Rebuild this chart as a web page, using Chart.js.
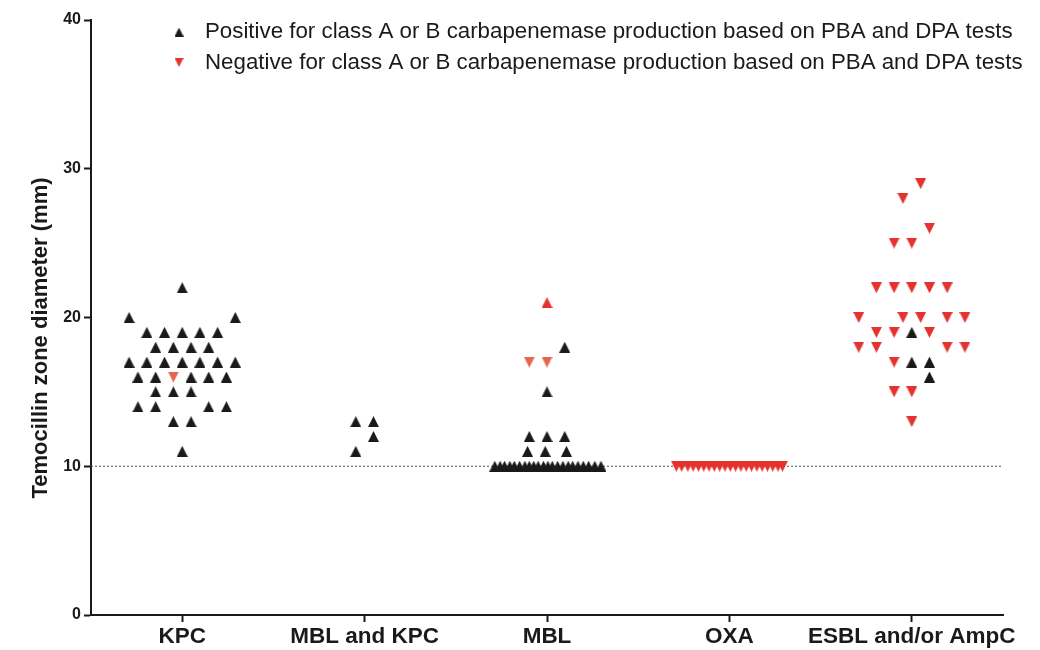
<!DOCTYPE html>
<html><head><meta charset="utf-8">
<script src="https://cdn.jsdelivr.net/npm/chart.js@4.4.1/dist/chart.umd.min.js"></script>
<style>html,body{margin:0;padding:0;background:#fff}#wrap{width:1040px;height:650px;position:relative}</style>
</head><body><div id="wrap"><canvas id="c" width="1040" height="650"></canvas></div>
<script>
// ---------- data ----------
const categories = ['KPC', 'MBL and KPC', 'MBL', 'OXA', 'ESBL and/or AmpC'];
const yTicks = [0, 10, 20, 30, 40];
const yTitle = 'Temocillin zone diameter (mm)';
const cutoffMm = 10;
const positiveLabel = 'Positive for class A or B carbapenemase production based on PBA and DPA tests';
const negativeLabel = 'Negative for class A or B carbapenemase production based on PBA and DPA tests';

// each point: [zone diameter (mm), column slot within the category]
const kpcPositive = [
  [22,0],[20,-3],[20,3],[19,-2],[19,-1],[19,0],[19,1],[19,2],
  [18,-1.5],[18,-0.5],[18,0.5],[18,1.5],
  [17,-3],[17,-2],[17,-1],[17,0],[17,1],[17,2],[17,3],
  [16,-2.5],[16,-1.5],[16,0.5],[16,1.5],[16,2.5],
  [15,-1.5],[15,-0.5],[15,0.5],
  [14,-2.5],[14,-1.5],[14,1.5],[14,2.5],
  [13,-0.5],[13,0.5],[11,0]
];
const kpcNegative = [[16,-0.5]];
const mblKpcPositive = [[13,-0.5],[13,0.5],[12,0.5],[11,-0.5]];
const mblPositive = [
  [18,1],[15,0],[12,-1],[12,0],[12,1],[11,-1.1],[11,-0.1],[11,1.1],
  [10,-2.95],[10,-2.65],[10,-2.4],[10,-2.1],[10,-1.85],[10,-1.55],[10,-1.25],[10,-1.0],
  [10,-0.75],[10,-0.5],[10,-0.2],[10,0.05],[10,0.3],[10,0.6],[10,0.9],[10,1.2],
  [10,1.45],[10,1.75],[10,2.05],[10,2.35],[10,2.7],[10,3.05]
];
const mblNegative = [[17,-1],[17,0]];
const mblRedUp = [[21,0]];
const oxaNegative = [
  [10,-3.0],[10,-2.7],[10,-2.35],[10,-2.05],[10,-1.75],[10,-1.45],[10,-1.15],[10,-0.85],
  [10,-0.55],[10,-0.25],[10,0.05],[10,0.35],[10,0.65],[10,0.95],[10,1.25],[10,1.55],
  [10,1.85],[10,2.15],[10,2.45],[10,2.75],[10,3.0]
];
const esblNegative = [
  [29,0.5],[28,-0.5],[26,1],[25,-1],[25,0],
  [22,-2],[22,-1],[22,0],[22,1],[22,2],
  [20,-3],[20,-0.5],[20,0.5],[20,2],[20,3],
  [19,-2],[19,-1],[19,1],
  [18,-3],[18,-2],[18,2],[18,3],
  [17,-1],[15,-1],[15,0],[13,0]
];
const esblPositive = [[19,0],[17,0],[17,1],[16,1]];

// ---------- drawing ----------
const FONT = '"Liberation Sans", Arial, Helvetica, sans-serif';
Chart.defaults.font.family = FONT;
const BLACK = '#1a1a1a', RED = '#e5322e', SALMON = '#e5664f';
const SLOT = 0.097; // horizontal spacing between columns, in category units

function tri(color, w, h, down) {
  const c = document.createElement('canvas');
  c.width = w; c.height = h;
  const g = c.getContext('2d');
  g.fillStyle = color;
  g.beginPath();
  if (down) { g.moveTo(0, 0); g.lineTo(w, 0); g.lineTo(w / 2, h); }
  else { g.moveTo(w / 2, 0); g.lineTo(w, h); g.lineTo(0, h); }
  g.closePath(); g.fill();
  return c;
}
const upBlack = tri(BLACK, 11, 11, false);
const downRed = tri(RED, 11, 11, true);
const downSalmon = tri(SALMON, 11, 11, true);
const upRed = tri(RED, 11, 11, false);

function pts(list, cat) {
  return list.map(([mm, slot]) => ({ x: cat + slot * SLOT, y: mm }));
}

const datasets = [
  { label: positiveLabel, data: [].concat(pts(kpcPositive,0), pts(mblKpcPositive,1), pts(mblPositive,2), pts(esblPositive,4)),
    pointStyle: upBlack, legendMarker: tri(BLACK, 9, 9, false) },
  { label: negativeLabel, data: [].concat(pts(oxaNegative,3), pts(esblNegative,4)),
    pointStyle: downRed, legendMarker: tri(RED, 9, 9, true) },
  { label: '', data: [].concat(pts(kpcNegative,0), pts(mblNegative,2)), pointStyle: downSalmon },
  { label: '', data: pts(mblRedUp,2), pointStyle: upRed },
  { label: '', type: 'line', showLine: true, data: [{x: -0.5, y: cutoffMm}, {x: categories.length - 0.5, y: cutoffMm}],
    borderColor: '#555', borderWidth: 1, borderDash: [2, 2], pointRadius: 0, fill: false }
].map(d => Object.assign({ pointRadius: 6, showLine: false }, d));

const figText = {
  id: 'figText',
  afterDraw(chart) {
    const ctx = chart.ctx;
    ctx.save();
    ctx.font = '22.3px ' + FONT;
    ctx.textBaseline = 'middle';
    ctx.fillStyle = BLACK;
    chart.data.datasets.filter(d => d.legendMarker).forEach((d, i) => {
      const y = 31 + i * 30.5;
      ctx.drawImage(d.legendMarker, 179 - 4.5, y - 3.5);
      ctx.fillText(d.label, 205, y + 1);
    });
    // y-axis title
    ctx.translate(41, 338);
    ctx.rotate(-Math.PI / 2);
    ctx.textAlign = 'center';
    ctx.font = 'bold 22px ' + FONT;
    ctx.fillText(yTitle, 0, 0);
    ctx.restore();
  }
};

new Chart(document.getElementById('c'), {
  type: 'scatter',
  data: { datasets },
  options: {
    responsive: false, animation: false, devicePixelRatio: 1,
    layout: { padding: { top: 20, right: 37, bottom: 0, left: 0 } },
    plugins: { legend: { display: false }, tooltip: { enabled: false } },
    scales: {
      x: {
        type: 'linear', min: -0.5, max: categories.length - 0.5,
        afterBuildTicks: s => { s.ticks = categories.map((_, i) => ({ value: i })); },
        afterFit: s => { s.height = 35; },
        ticks: { callback: v => categories[v], color: BLACK, font: { size: 22.5, weight: 'bold' }, padding: 1, maxRotation: 0, autoSkip: false },
        grid: { drawOnChartArea: false, tickLength: 7, tickWidth: 2, tickColor: BLACK },
        border: { color: BLACK, width: 2 }
      },
      y: {
        min: 0, max: 40,
        afterBuildTicks: s => { s.ticks = yTicks.map(v => ({ value: v })); },
        afterFit: s => { s.width = 91; },
        ticks: { color: BLACK, font: { size: 16, weight: 'bold' }, padding: 3 },
        grid: { drawOnChartArea: false, tickLength: 7, tickWidth: 2, tickColor: BLACK },
        border: { color: BLACK, width: 2 }
      }
    }
  },
  plugins: [figText]
});
</script>
</body></html>
